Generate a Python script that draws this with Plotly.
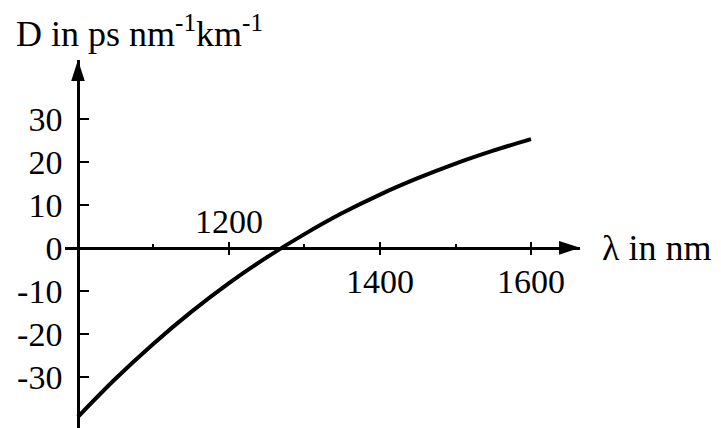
import plotly.graph_objects as go

# Data (wavelength in nm, dispersion D in ps nm^-1 km^-1)
wavelength_nm = [1000, 1050, 1100, 1150, 1200, 1250, 1300, 1350, 1400, 1450, 1500, 1550, 1600]
dispersion = [-39.3, -30.4, -22.3, -14.9, -8.2, -2.2, 3.2, 8.1, 12.4, 16.2, 19.6, 22.6, 25.3]

y_tick_vals = [-30, -20, -10, 0, 10, 20, 30]
y_tick_text = ["-30", "-20", "-10", "0", "10", "20", "30"]
x_major_ticks = [1200, 1400, 1600]
x_minor_ticks = [1100, 1300, 1500]
x_labels_below = ["", "1400", "1600"]
x_labels_above = ["1200", "", ""]

FONT = "Liberation Serif, Times New Roman, Tinos, DejaVu Serif, serif"
FS = 34
FS_TITLE = 36
OFF = 8  # page body margin
W, H = 721, 428
# target plot area in page pixels: x 65..580, y 60..428
ML, MT = 65 - OFF, 60 - OFF
MR = W - (580 - OFF)
MB = H - (428 - OFF)

x_range = [982.8, 1664.9]
y_range = [-41.9, 43.7]
x_axis_pos = (0 - y_range[0]) / (y_range[1] - y_range[0])
y_axis_pos = (1000 - x_range[0]) / (x_range[1] - x_range[0])
PW = W - ML - MR
PH = H - MT - MB

fig = go.Figure()
fig.add_trace(go.Scatter(
    x=wavelength_nm, y=dispersion, mode="lines",
    line=dict(color="black", width=4, shape="spline", smoothing=1.0),
    hoverinfo="skip", showlegend=False, cliponaxis=False,
))
# axis arrowheads
fig.add_trace(go.Scatter(
    x=[1000], y=[y_range[1]], mode="markers",
    marker=dict(symbol="arrow", angle=0, size=22, color="black", line=dict(width=0)),
    showlegend=False, hoverinfo="skip", cliponaxis=False,
))
fig.add_trace(go.Scatter(
    x=[x_range[1]], y=[0], mode="markers",
    marker=dict(symbol="arrow", angle=90, size=22, color="black", line=dict(width=0)),
    showlegend=False, hoverinfo="skip", cliponaxis=False,
))
fig.add_trace(go.Scatter(x=[x_range[0]], y=[0], xaxis="x2", mode="markers",
                         marker=dict(opacity=0), showlegend=False, hoverinfo="skip"))

axis_font = dict(family=FONT, size=FS, color="black")

fig.update_layout(
    width=W, height=H,
    margin=dict(l=ML, r=MR, t=MT, b=MB, pad=0),
    paper_bgcolor="white", plot_bgcolor="white",
    showlegend=False,
    font=dict(family=FONT, size=FS, color="black"),
    xaxis=dict(
        range=x_range, anchor="free", position=x_axis_pos, side="bottom",
        showline=True, linecolor="black", linewidth=2.5,
        showgrid=False, zeroline=False,
        tickmode="array", tickvals=x_major_ticks, ticktext=x_labels_below,
        ticks="outside", ticklen=5, tickwidth=2, tickcolor="black",
        tickfont=axis_font, ticklabelstandoff=-2, automargin=False,
    ),
    xaxis2=dict(
        range=x_range, anchor="free", position=x_axis_pos, side="top",
        overlaying="x", matches="x",
        showline=False, showgrid=False, zeroline=False,
        tickmode="array", tickvals=x_major_ticks, ticktext=x_labels_above,
        ticks="outside", ticklen=6, tickwidth=2, tickcolor="black",
        minor=dict(tickvals=x_minor_ticks, ticks="outside", ticklen=4,
                   tickwidth=2, tickcolor="black", showgrid=False),
        tickfont=axis_font, ticklabelstandoff=-5, automargin=False,
    ),
    yaxis=dict(
        range=y_range, anchor="free", position=y_axis_pos,
        showline=True, linecolor="black", linewidth=2.5,
        showgrid=False, zeroline=False,
        tickmode="array", tickvals=y_tick_vals, ticktext=y_tick_text,
        ticks="inside", ticklen=9, tickwidth=2, tickcolor="black",
        tickfont=axis_font, ticklabelstandoff=8, automargin=False,
    ),
    annotations=[
        dict(text="D in ps nm<sup>-1</sup>km<sup>-1</sup>", xref="paper", yref="paper",
             x=(14 - OFF - ML) / PW, y=(H - MB - (31 - OFF)) / PH,
             xanchor="left", yanchor="middle", showarrow=False,
             font=dict(family=FONT, size=FS_TITLE, color="black")),
        dict(text="λ in nm", xref="paper", yref="y",
             x=(600 - OFF - ML) / PW, y=0,
             xanchor="left", yanchor="middle", showarrow=False,
             font=dict(family=FONT, size=FS_TITLE, color="black")),
    ],
)

fig.write_html("out.html")
